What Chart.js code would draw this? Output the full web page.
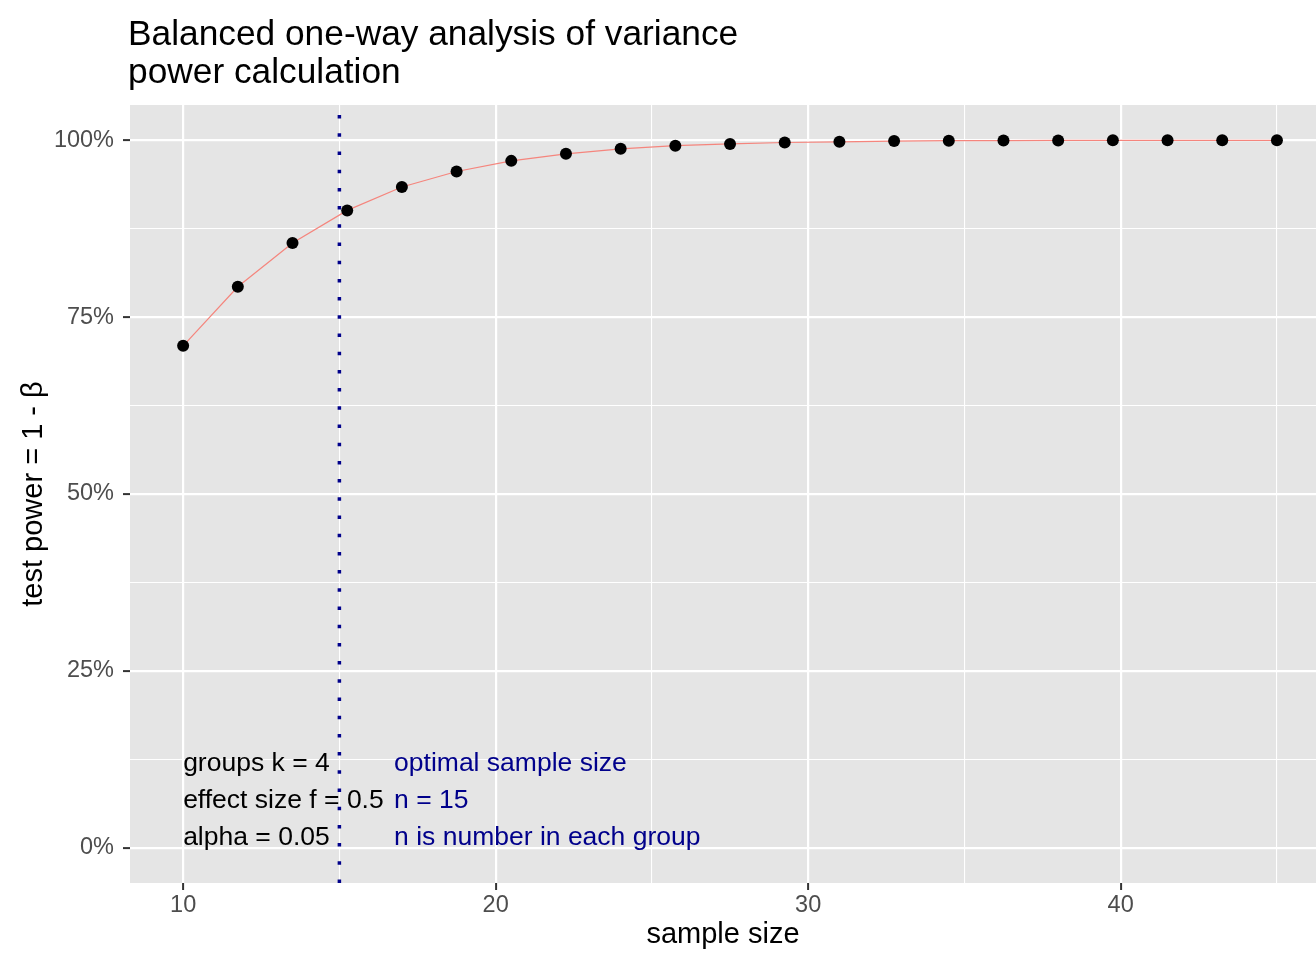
<!DOCTYPE html>
<html>
<head>
<meta charset="utf-8">
<script src="https://cdn.jsdelivr.net/npm/chart.js@4"></script>
<style>
  html, body { margin: 0; padding: 0; background: #fff; }
  #wrap { width: 1316px; height: 953px; }
</style>
</head>
<body>
<div id="wrap"><canvas id="powerChart" width="1316" height="953"></canvas></div>
<script>
// Data
const sampleSizes = [10, 11.75, 13.5, 15.25, 17, 18.75, 20.5, 22.25, 24, 25.75, 27.5,
  29.25, 31, 32.75, 34.5, 36.25, 38, 39.75, 41.5, 43.25, 45];
const testPower = [70.95, 79.3, 85.5, 90.1, 93.4, 95.6, 97.1, 98.1, 98.8, 99.25, 99.5,
  99.7, 99.8, 99.9, 99.95, 99.97, 99.99, 100, 100, 100, 100];
const optimalN = 15;

const xMajorTicks = [10, 20, 30, 40];
const xMinorTicks = [15, 25, 35, 45];
const yMajorTicks = [0, 25, 50, 75, 100];
const yMinorTicks = [12.5, 37.5, 62.5, 87.5];

const titleLines = ["Balanced one-way analysis of variance", "power calculation"];
const paramLines = ["groups k = 4", "effect size f = 0.5", "alpha = 0.05"];
const noteLines = ["optimal sample size", "n = " + optimalN, "n is number in each group"];

const FONT = "'Liberation Sans', Arial, Helvetica, sans-serif";

const isMajor = (list, v) => list.includes(v);

// grey panel + white page
const panelBg = {
  id: "panelBg",
  beforeDraw(chart) {
    const { ctx, chartArea: a } = chart;
    ctx.save();
    ctx.fillStyle = "#fff";
    ctx.fillRect(0, 0, chart.width, chart.height);
    ctx.fillStyle = "#E5E5E5";
    ctx.fillRect(a.left, a.top, a.right - a.left, a.bottom - a.top);
    ctx.restore();
  }
};

// two-line title, left aligned on the panel
const plotTitle = {
  id: "plotTitle",
  afterDraw(chart) {
    const { ctx } = chart;
    ctx.save();
    ctx.font = "35.3px " + FONT;
    ctx.fillStyle = "#000";
    ctx.textAlign = "left";
    ctx.textBaseline = "alphabetic";
    titleLines.forEach((t, i) => ctx.fillText(t, 128, 45 + i * 38));
    ctx.restore();
  }
};

// text annotations under the dotted line
const notes = {
  id: "notes",
  beforeDatasetsDraw(chart) {
    const { ctx, scales: { x, y } } = chart;
    const base = y.getPixelForValue(0) - 3;
    ctx.save();
    ctx.font = "26.5px " + FONT;
    ctx.textAlign = "left";
    ctx.textBaseline = "alphabetic";
    ctx.fillStyle = "#000";
    paramLines.forEach((t, i) => {
      ctx.fillText(t, x.getPixelForValue(10), base - (paramLines.length - 1 - i) * 37);
    });
    ctx.fillStyle = "#00008B";
    noteLines.forEach((t, i) => {
      ctx.fillText(t, x.getPixelForValue(16.75), base - (noteLines.length - 1 - i) * 37);
    });
    ctx.restore();
  }
};

new Chart(document.getElementById("powerChart"), {
  type: "line",
  data: {
    datasets: [
      {
        data: sampleSizes.map((n, i) => ({ x: n, y: testPower[i] })),
        borderColor: "#F5857D",
        borderWidth: 1.2,
        pointRadius: 6,
        pointBackgroundColor: "#000",
        pointBorderWidth: 0,
        tension: 0
      },
      {
        data: [{ x: optimalN, y: -5 }, { x: optimalN, y: 105 }],
        borderColor: "#00008B",
        borderWidth: 3.5,
        borderDash: [3.5, 14.7],
        borderDashOffset: 0,
        borderCapStyle: "butt",
        pointRadius: 0,
        clip: 0
      }
    ]
  },
  options: {
    responsive: false,
    animation: false,
    devicePixelRatio: 1,
    layout: { autoPadding: false, padding: { top: 105, left: 0, right: 0, bottom: 0 } },
    plugins: {
      legend: { display: false },
      tooltip: { enabled: false },
      title: { display: false }
    },
    scales: {
      x: {
        type: "linear",
        min: 8.3,
        max: 46.25,
        afterBuildTicks: s => {
          s.ticks = xMajorTicks.concat(xMinorTicks).sort((a, b) => a - b).map(v => ({ value: v }));
        },
        afterFit: s => { s.height = 70; },
        border: { display: false },
        grid: {
          color: "#FFFFFF",
          lineWidth: c => (isMajor(xMajorTicks, c.tick.value) ? 2.2 : 1.1),
          tickColor: c => (isMajor(xMajorTicks, c.tick.value) ? "#333333" : "rgba(0,0,0,0)"),
          tickWidth: 2,
          tickLength: 7
        },
        ticks: {
          autoSkip: false,
          maxRotation: 0,
          padding: 1,
          color: "#4D4D4D",
          font: { family: FONT, size: 23.5 },
          callback: v => (isMajor(xMajorTicks, v) ? String(v) : "")
        },
        title: {
          display: true,
          text: "sample size",
          color: "#000",
          font: { family: FONT, size: 29 },
          padding: { top: 0, bottom: 1 }
        }
      },
      y: {
        min: -5,
        max: 105,
        afterBuildTicks: s => {
          s.ticks = yMajorTicks.concat(yMinorTicks).sort((a, b) => a - b).map(v => ({ value: v }));
        },
        afterFit: s => { s.width = 130; },
        border: { display: false },
        grid: {
          color: "#FFFFFF",
          lineWidth: c => (isMajor(yMajorTicks, c.tick.value) ? 2.2 : 1.1),
          tickColor: c => (isMajor(yMajorTicks, c.tick.value) ? "#333333" : "rgba(0,0,0,0)"),
          tickWidth: 2,
          tickLength: 7
        },
        ticks: {
          autoSkip: false,
          padding: 9,
          color: "#4D4D4D",
          font: { family: FONT, size: 23.5 },
          callback: v => (isMajor(yMajorTicks, v) ? v + "%" : "")
        },
        title: {
          display: true,
          text: "test power = 1 - β",
          color: "#000",
          font: { family: FONT, size: 29 },
          padding: { top: 17, bottom: 0 }
        }
      }
    }
  },
  plugins: [panelBg, notes, plotTitle]
});
</script>
</body>
</html>
